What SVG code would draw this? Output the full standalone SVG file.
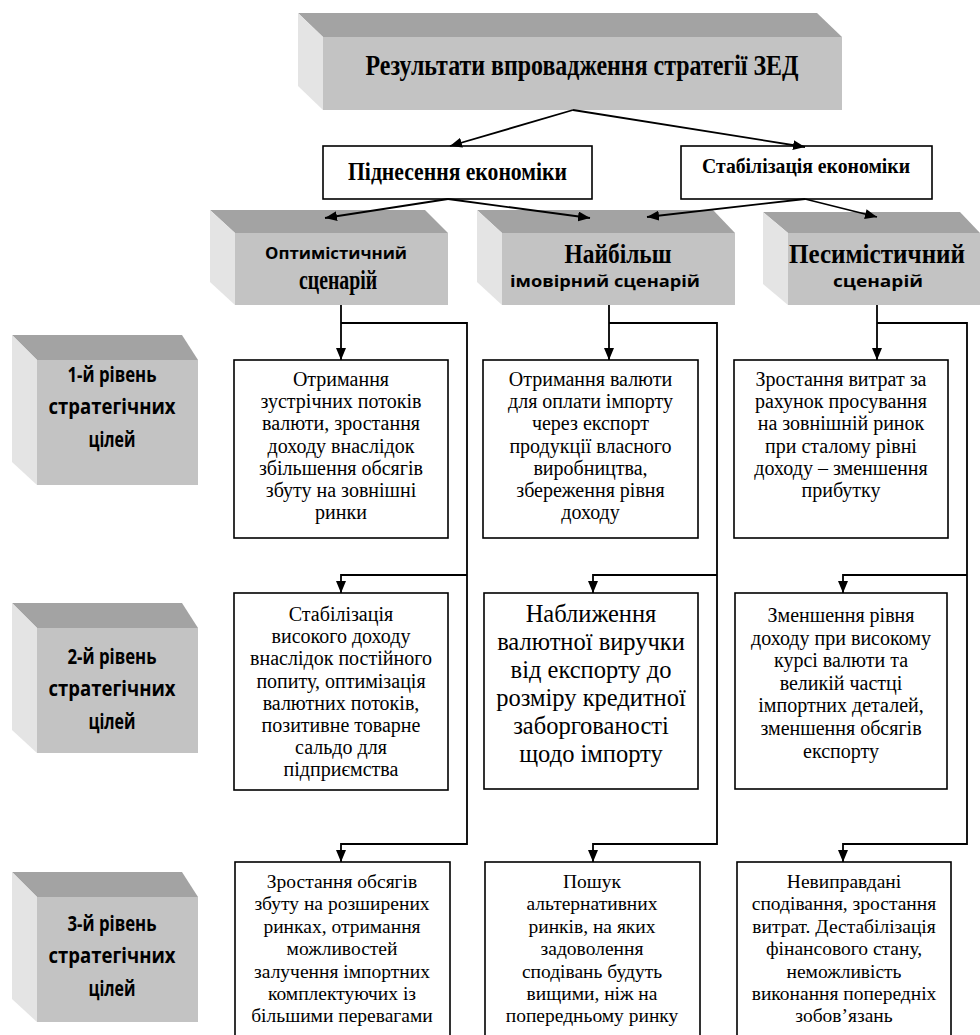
<svg xmlns="http://www.w3.org/2000/svg" width="980" height="1035" viewBox="0 0 980 1035">
<defs>
<marker id="ah" viewBox="0 0 12 10" refX="12" refY="5" markerWidth="12" markerHeight="10" markerUnits="userSpaceOnUse" orient="auto"><path d="M0,0 L12,5 L0,10 z" fill="#000"/></marker>
<style>
.top{fill:#a3a3a3}
.front{fill:#c3c3c3}
.side{fill:#e4e4e4}
.box{fill:#fff;stroke:#000;stroke-width:1.6}
.con{fill:none;stroke:#000;stroke-width:1.8}
.b{font-family:"Liberation Serif","Times New Roman",serif;font-size:20px;text-anchor:middle;fill:#000}
.b25{font-family:"Liberation Serif","Times New Roman",serif;font-size:24.5px;text-anchor:middle;fill:#000}
.b19{font-family:"Liberation Serif","Times New Roman",serif;font-size:19.5px;text-anchor:middle;fill:#000}
.hs{font-family:"Liberation Serif","Times New Roman",serif;font-weight:bold;text-anchor:middle;fill:#000}
.ss{font-family:"Open Sans","Liberation Sans",sans-serif;font-weight:bold;text-anchor:middle;fill:#000}
</style>
</defs>
<rect width="980" height="1035" fill="#fff"/>

<g id="title">
<polygon class="top" points="298,13 817,13 842,37 323,37"/>
<polygon class="side" points="298,13 323,37 323,110 298,86"/>
<rect class="front" x="323" y="37" width="519" height="73"/>
<text class="hs" font-size="23" transform="translate(582,75) scale(1,1.25)" textLength="433" lengthAdjust="spacingAndGlyphs">Результати впровадження стратегії ЗЕД</text>
</g>

<g id="pidnesennia">
<rect class="box" x="323" y="146" width="269" height="53"/>
<text class="hs" font-size="21" transform="translate(457.5,180) scale(1,1.15)" textLength="219" lengthAdjust="spacingAndGlyphs">Піднесення економіки</text>
</g>

<g id="stabilizatsiia">
<rect class="box" x="681" y="146" width="251" height="53"/>
<text class="hs" font-size="20" transform="translate(806,173) scale(1,1.1)" textLength="208" lengthAdjust="spacingAndGlyphs">Стабілізація економіки</text>
</g>

<g id="optimistic">
<polygon class="top" points="210,210 425,210 448,233 235,233"/>
<polygon class="side" points="210,210 235,233 235,305 210,282"/>
<rect class="front" x="235" y="233" width="213" height="72"/>
<text class="ss" font-size="15" transform="translate(336,259) scale(1,1.12)" textLength="142" lengthAdjust="spacingAndGlyphs">Оптимістичний</text>
<text class="hs" font-size="21" transform="translate(338,289) scale(1,1.3)" textLength="78" lengthAdjust="spacingAndGlyphs">сценарій</text>
</g>

<g id="probable">
<polygon class="top" points="477,210 713,210 735,233 502,233"/>
<polygon class="side" points="477,210 502,233 502,305 477,282"/>
<rect class="front" x="502" y="233" width="233" height="72"/>
<text class="hs" font-size="24" transform="translate(618,263) scale(1,1.15)" textLength="107" lengthAdjust="spacingAndGlyphs">Найбільш</text>
<text class="ss" font-size="15" transform="translate(605,287) scale(1,1.12)" textLength="190" lengthAdjust="spacingAndGlyphs">імовірний сценарій</text>
</g>

<g id="pessimistic">
<polygon class="top" points="763,212 960,212 980,233 788,233"/>
<polygon class="side" points="763,212 788,233 788,305 763,284"/>
<rect class="front" x="788" y="233" width="192" height="72"/>
<text class="hs" font-size="24" transform="translate(877,263) scale(1,1.15)" textLength="176" lengthAdjust="spacingAndGlyphs">Песимістичний</text>
<text class="ss" font-size="15" transform="translate(878,287) scale(1,1.12)" textLength="90" lengthAdjust="spacingAndGlyphs">сценарій</text>
</g>

<g id="level1">
<polygon class="top" points="12,335 182,335 198,360 37,360"/>
<polygon class="side" points="12,335 37,360 37,485 12,462"/>
<rect class="front" x="37" y="360" width="161" height="125"/>
<g transform="translate(112,382) scale(1,1.1)">
<text class="ss" font-size="19" textLength="89" lengthAdjust="spacingAndGlyphs">1-й рівень</text>
<text class="ss" font-size="19" y="29.5" textLength="127" lengthAdjust="spacingAndGlyphs">стратегічних</text>
<text class="ss" font-size="19" y="59" textLength="47" lengthAdjust="spacingAndGlyphs">цілей</text>
</g>
</g>

<g id="level2">
<polygon class="top" points="12,603 182,603 198,628 37,628"/>
<polygon class="side" points="12,603 37,628 37,753 12,730"/>
<rect class="front" x="37" y="628" width="161" height="125"/>
<g transform="translate(112,664) scale(1,1.1)">
<text class="ss" font-size="19" textLength="89" lengthAdjust="spacingAndGlyphs">2-й рівень</text>
<text class="ss" font-size="19" y="29.5" textLength="127" lengthAdjust="spacingAndGlyphs">стратегічних</text>
<text class="ss" font-size="19" y="59" textLength="47" lengthAdjust="spacingAndGlyphs">цілей</text>
</g>
</g>

<g id="level3">
<polygon class="top" points="12,872 182,872 198,897 37,897"/>
<polygon class="side" points="12,872 37,897 37,1022 12,999"/>
<rect class="front" x="37" y="897" width="161" height="125"/>
<g transform="translate(112,931) scale(1,1.1)">
<text class="ss" font-size="19" textLength="89" lengthAdjust="spacingAndGlyphs">3-й рівень</text>
<text class="ss" font-size="19" y="29.5" textLength="127" lengthAdjust="spacingAndGlyphs">стратегічних</text>
<text class="ss" font-size="19" y="59" textLength="47" lengthAdjust="spacingAndGlyphs">цілей</text>
</g>
</g>

<g id="l1b1">
<rect class="box" x="234" y="360" width="214" height="178"/>
<g class="b">
<text x="341" y="386">Отримання</text>
<text x="341" y="408.2">зустрічних потоків</text>
<text x="341" y="430.4">валюти, зростання</text>
<text x="341" y="452.6">доходу внаслідок</text>
<text x="341" y="474.8">збільшення обсягів</text>
<text x="341" y="497">збуту на зовнішні</text>
<text x="341" y="519.2">ринки</text>
</g>
</g>

<g id="l1b2">
<rect class="box" x="483" y="360" width="215" height="178"/>
<g class="b">
<text x="590.5" y="386">Отримання валюти</text>
<text x="590.5" y="408.2">для оплати імпорту</text>
<text x="590.5" y="430.4">через експорт</text>
<text x="590.5" y="452.6">продукції власного</text>
<text x="590.5" y="474.8">виробництва,</text>
<text x="590.5" y="497">збереження рівня</text>
<text x="590.5" y="519.2">доходу</text>
</g>
</g>

<g id="l1b3">
<rect class="box" x="734" y="360" width="214" height="178"/>
<g class="b">
<text x="841" y="386">Зростання витрат за</text>
<text x="841" y="408.2">рахунок просування</text>
<text x="841" y="430.4">на зовнішній ринок</text>
<text x="841" y="452.6">при сталому рівні</text>
<text x="841" y="474.8">доходу – зменшення</text>
<text x="841" y="497">прибутку</text>
</g>
</g>

<g id="l2b1">
<rect class="box" x="234" y="593" width="214" height="197"/>
<g class="b">
<text x="341" y="621">Стабілізація</text>
<text x="341" y="643.2">високого доходу</text>
<text x="341" y="665.4">внаслідок постійного</text>
<text x="341" y="687.6">попиту, оптимізація</text>
<text x="341" y="709.8">валютних потоків,</text>
<text x="341" y="732">позитивне товарне</text>
<text x="341" y="754.2">сальдо для</text>
<text x="341" y="776.4">підприємства</text>
</g>
</g>

<g id="l2b2">
<rect class="box" x="484" y="593" width="214" height="196"/>
<g class="b25">
<text x="591" y="622">Наближення</text>
<text x="591" y="650">валютної виручки</text>
<text x="591" y="678">від експорту до</text>
<text x="591" y="706">розміру кредитної</text>
<text x="591" y="734">заборгованості</text>
<text x="591" y="762">щодо імпорту</text>
</g>
</g>

<g id="l2b3">
<rect class="box" x="735" y="593" width="212" height="196"/>
<g class="b">
<text x="841" y="622">Зменшення рівня</text>
<text x="841" y="644.6">доходу при високому</text>
<text x="841" y="667.2">курсі валюти та</text>
<text x="841" y="689.8">великій частці</text>
<text x="841" y="712.4">імпортних деталей,</text>
<text x="841" y="735">зменшення обсягів</text>
<text x="841" y="757.6">експорту</text>
</g>
</g>

<g id="l3b1">
<rect class="box" x="235" y="862" width="215" height="190"/>
<g class="b19">
<text x="342" y="888">Зростання обсягів</text>
<text x="342" y="910.4">збуту на розширених</text>
<text x="342" y="932.8">ринках, отримання</text>
<text x="342" y="955.2">можливостей</text>
<text x="342" y="977.6">залучення імпортних</text>
<text x="342" y="1000">комплектуючих із</text>
<text x="342" y="1022.4">більшими перевагами</text>
</g>
</g>

<g id="l3b2">
<rect class="box" x="485" y="862" width="215" height="190"/>
<g class="b19">
<text x="592" y="888">Пошук</text>
<text x="592" y="910.4">альтернативних</text>
<text x="592" y="932.8">ринків, на яких</text>
<text x="592" y="955.2">задоволення</text>
<text x="592" y="977.6">сподівань будуть</text>
<text x="592" y="1000">вищими, ніж на</text>
<text x="592" y="1022.4">попередньому ринку</text>
</g>
</g>

<g id="l3b3">
<rect class="box" x="737" y="862" width="214" height="190"/>
<g class="b19">
<text x="844" y="888">Невиправдані</text>
<text x="844" y="910.4">сподівання, зростання</text>
<text x="844" y="932.8">витрат. Дестабілізація</text>
<text x="844" y="955.2">фінансового стану,</text>
<text x="844" y="977.6">неможливість</text>
<text x="844" y="1000">виконання попередніх</text>
<text x="844" y="1022.4">зобов’язань</text>
</g>
</g>

<g id="connectors">
<line class="con" x1="573" y1="110" x2="450" y2="146" marker-end="url(#ah)"/>
<line class="con" x1="573" y1="110" x2="805" y2="147" marker-end="url(#ah)"/>
<line class="con" x1="448" y1="199" x2="325" y2="218" marker-end="url(#ah)"/>
<line class="con" x1="448" y1="199" x2="590" y2="218" marker-end="url(#ah)"/>
<line class="con" x1="805" y1="199" x2="647" y2="217" marker-end="url(#ah)"/>
<line class="con" x1="805" y1="199" x2="877" y2="217" marker-end="url(#ah)"/>

<line class="con" x1="341" y1="305" x2="341" y2="360" marker-end="url(#ah)"/>
<polyline class="con" points="341,323 467,323 467,844 341,844 341,862" marker-end="url(#ah)"/>
<polyline class="con" points="467,575 341,575 341,593" marker-end="url(#ah)"/>

<line class="con" x1="609" y1="305" x2="609" y2="360" marker-end="url(#ah)"/>
<polyline class="con" points="609,323 717,323 717,844 593,844 593,862" marker-end="url(#ah)"/>
<polyline class="con" points="717,575 593,575 593,593" marker-end="url(#ah)"/>

<line class="con" x1="877" y1="305" x2="877" y2="360" marker-end="url(#ah)"/>
<polyline class="con" points="877,323 967,323 967,844 843,844 843,862" marker-end="url(#ah)"/>
<polyline class="con" points="967,575 843,575 843,593" marker-end="url(#ah)"/>
</g>
</svg>
